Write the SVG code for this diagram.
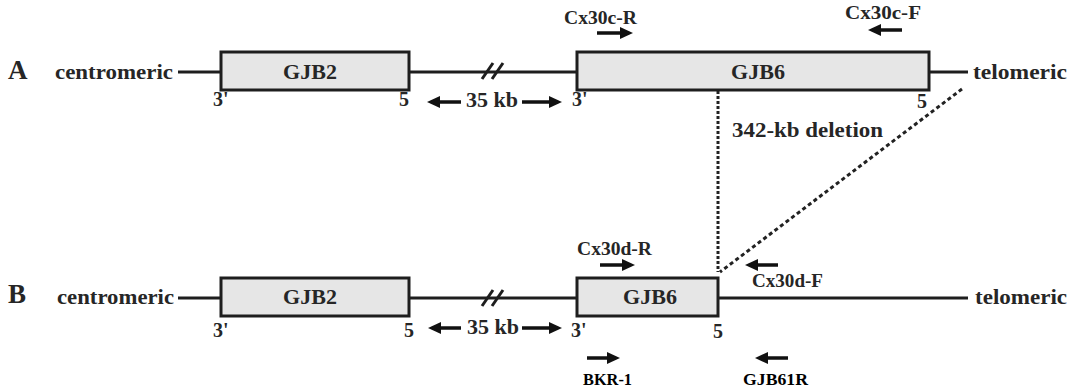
<svg xmlns="http://www.w3.org/2000/svg" width="1069" height="390" viewBox="0 0 1069 390">
<style>
.t{font-family:"Liberation Serif","Times New Roman",serif;font-weight:bold;fill:#262626}
.big{font-size:27px}
.lab{font-size:22px}
.end{font-size:20px}
.pr{font-size:19px}
.bk{font-size:16px;fill:#000}
.box{fill:#e6e6e6;stroke:#1e1e1e;stroke-width:3}
.ln{stroke:#1e1e1e;stroke-width:3;fill:none}
.arr{stroke:#111;stroke-width:3.5;fill:none;marker-end:url(#ah)}
.dot{stroke:#222;stroke-width:3;stroke-dasharray:3 2;fill:none}
.dash{stroke:#222;stroke-width:3;stroke-dasharray:4 3;fill:none}
</style>
<defs>
<marker id="ah" markerUnits="userSpaceOnUse" markerWidth="13" markerHeight="12" refX="4" refY="6" orient="auto">
<path d="M0,0 L13,6 L0,12 z" fill="#111"/>
</marker>
</defs>
<rect width="1069" height="390" fill="#fff"/>

<g id="connectors">
<line class="ln" x1="178" y1="72" x2="221" y2="72"/>
<line class="ln" x1="409" y1="72" x2="577" y2="72"/>
<line class="ln" x1="929" y1="72" x2="968" y2="72"/>
<line class="ln" x1="482" y1="79" x2="493" y2="63"/>
<line class="ln" x1="492" y1="79" x2="503" y2="63"/>
<line class="ln" x1="178" y1="298" x2="221" y2="298"/>
<line class="ln" x1="409" y1="298" x2="577" y2="298"/>
<line class="ln" x1="718" y1="298" x2="968" y2="298"/>
<line class="ln" x1="482" y1="306" x2="493" y2="290"/>
<line class="ln" x1="492" y1="306" x2="503" y2="290"/>
<line class="dot" x1="718" y1="91" x2="718" y2="272"/>
<line class="dash" x1="962" y1="89" x2="720" y2="272"/>
<line class="arr" x1="461" y1="102" x2="436" y2="102"/>
<line class="arr" x1="522" y1="102" x2="553" y2="102"/>
<line class="arr" x1="461" y1="328" x2="437" y2="328"/>
<line class="arr" x1="522" y1="328" x2="553" y2="328"/>
<line class="arr" x1="597" y1="33" x2="624" y2="33"/>
<line class="arr" x1="902" y1="30" x2="877" y2="30"/>
<line class="arr" x1="600" y1="265" x2="626" y2="265"/>
<line class="arr" x1="778" y1="265" x2="754" y2="265"/>
<line class="arr" x1="587" y1="358" x2="611" y2="358"/>
<line class="arr" x1="788" y1="358" x2="764" y2="358"/>
</g>

<g id="labelA">
<text class="t big" x="8" y="79">A</text>
<text class="t lab" x="55" y="79" textLength="118" lengthAdjust="spacingAndGlyphs">centromeric</text>
<text class="t lab" x="973" y="79" textLength="94" lengthAdjust="spacingAndGlyphs">telomeric</text>
</g>
<g id="A_GJB2">
<rect class="box" x="221" y="52" width="188" height="38"/>
<text class="t lab" x="310" y="79" text-anchor="middle">GJB2</text>
<text class="t end" x="213" y="106">3'</text>
<text class="t end" x="399" y="106">5</text>
</g>
<g id="A_35kb">
<text class="t lab" x="466" y="107">35 kb</text>
</g>
<g id="A_GJB6">
<rect class="box" x="577" y="52" width="352" height="38"/>
<text class="t lab" x="758" y="79" text-anchor="middle">GJB6</text>
<text class="t end" x="572" y="106">3'</text>
<text class="t end" x="917" y="108">5</text>
</g>
<g id="A_Cx30cR"><text class="t pr" x="564" y="24" textLength="73" lengthAdjust="spacingAndGlyphs">Cx30c-R</text></g>
<g id="A_Cx30cF"><text class="t pr" x="845" y="19" textLength="76" lengthAdjust="spacingAndGlyphs">Cx30c-F</text></g>
<g id="deletion"><text class="t lab" x="732" y="137" textLength="151" lengthAdjust="spacingAndGlyphs">342-kb deletion</text></g>

<g id="labelB">
<text class="t big" x="8" y="303">B</text>
<text class="t lab" x="57" y="304" textLength="117" lengthAdjust="spacingAndGlyphs">centromeric</text>
<text class="t lab" x="975" y="304" textLength="92" lengthAdjust="spacingAndGlyphs">telomeric</text>
</g>
<g id="B_GJB2">
<rect class="box" x="221" y="278" width="188" height="38"/>
<text class="t lab" x="310" y="304" text-anchor="middle">GJB2</text>
<text class="t end" x="213" y="337">3'</text>
<text class="t end" x="404" y="337">5</text>
</g>
<g id="B_35kb">
<text class="t lab" x="467" y="334">35 kb</text>
</g>
<g id="B_GJB6">
<rect class="box" x="577" y="278" width="141" height="38"/>
<text class="t lab" x="650" y="304" text-anchor="middle">GJB6</text>
<text class="t end" x="571" y="337">3'</text>
<text class="t end" x="713" y="338">5</text>
</g>
<g id="B_Cx30dR"><text class="t pr" x="577" y="255" textLength="75" lengthAdjust="spacingAndGlyphs">Cx30d-R</text></g>
<g id="B_Cx30dF"><text class="t pr" x="752" y="287" textLength="71" lengthAdjust="spacingAndGlyphs">Cx30d-F</text></g>
<g id="B_BKR1"><text class="t bk" x="583" y="385" textLength="49" lengthAdjust="spacingAndGlyphs">BKR-1</text></g>
<g id="B_GJB61R"><text class="t bk" x="743" y="385" textLength="65" lengthAdjust="spacingAndGlyphs">GJB61R</text></g>
</svg>
